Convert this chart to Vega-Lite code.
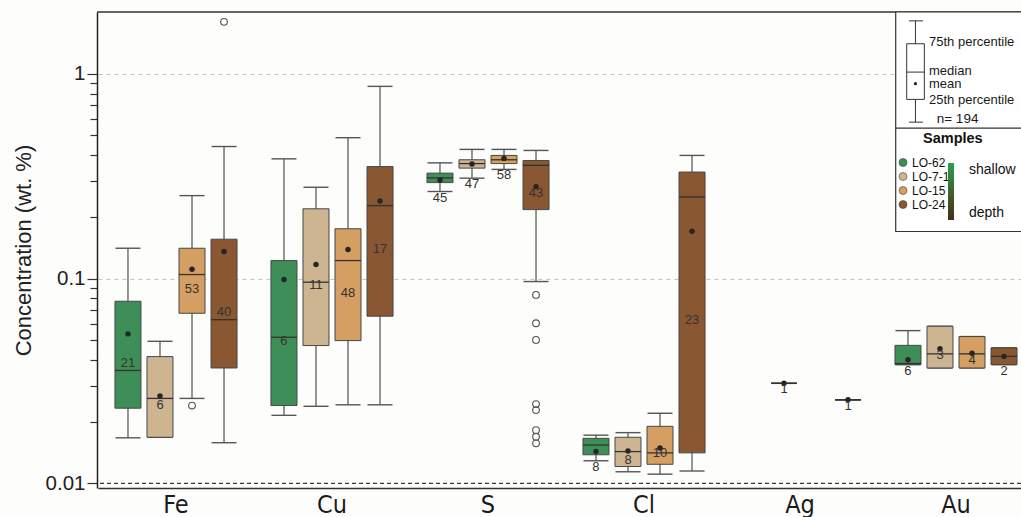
{
  "$schema": "https://vega.github.io/schema/vega-lite/v6.json",
  "width": 924,
  "height": 476,
  "autosize": "none",
  "padding": {"left": 97, "top": 12, "right": 0, "bottom": 29},
  "background": "#fdfdfb",
  "config": {"view": {"stroke": null}, "font": "Liberation Sans"},
  "datasets": {
    "boxes": [
      {"element": "Fe", "sample": "LO-62", "depth": 1, "n": 21, "lower": 0.0167, "q1": 0.0233, "median": 0.0356, "q3": 0.0775, "upper": 0.1406, "mean": 0.0537},
      {"element": "Fe", "sample": "LO-7-1", "depth": 2, "n": 6, "lower": 0.0168, "q1": 0.0168, "median": 0.026, "q3": 0.0416, "upper": 0.0494, "mean": 0.0267},
      {"element": "Fe", "sample": "LO-15", "depth": 3, "n": 53, "lower": 0.026, "q1": 0.0677, "median": 0.1046, "q3": 0.1406, "upper": 0.254, "mean": 0.111},
      {"element": "Fe", "sample": "LO-24", "depth": 4, "n": 40, "lower": 0.0158, "q1": 0.0366, "median": 0.063, "q3": 0.1556, "upper": 0.441, "mean": 0.1355},
      {"element": "Cu", "sample": "LO-62", "depth": 1, "n": 6, "lower": 0.0215, "q1": 0.024, "median": 0.0517, "q3": 0.1224, "upper": 0.384, "mean": 0.099},
      {"element": "Cu", "sample": "LO-7-1", "depth": 2, "n": 11, "lower": 0.0238, "q1": 0.0471, "median": 0.096, "q3": 0.219, "upper": 0.279, "mean": 0.117},
      {"element": "Cu", "sample": "LO-15", "depth": 3, "n": 48, "lower": 0.0242, "q1": 0.0498, "median": 0.1224, "q3": 0.175, "upper": 0.487, "mean": 0.1386},
      {"element": "Cu", "sample": "LO-24", "depth": 4, "n": 17, "lower": 0.0242, "q1": 0.0655, "median": 0.227, "q3": 0.352, "upper": 0.867, "mean": 0.239},
      {"element": "S", "sample": "LO-62", "depth": 1, "n": 45, "lower": 0.266, "q1": 0.294, "median": 0.31, "q3": 0.327, "upper": 0.367, "mean": 0.303},
      {"element": "S", "sample": "LO-7-1", "depth": 2, "n": 47, "lower": 0.309, "q1": 0.346, "median": 0.364, "q3": 0.38, "upper": 0.427, "mean": 0.362},
      {"element": "S", "sample": "LO-15", "depth": 3, "n": 58, "lower": 0.341, "q1": 0.364, "median": 0.38, "q3": 0.399, "upper": 0.427, "mean": 0.386},
      {"element": "S", "sample": "LO-24", "depth": 4, "n": 43, "lower": 0.0967, "q1": 0.217, "median": 0.357, "q3": 0.377, "upper": 0.422, "mean": 0.281},
      {"element": "Cl", "sample": "LO-62", "depth": 1, "n": 8, "lower": 0.0129, "q1": 0.0138, "median": 0.0154, "q3": 0.0166, "upper": 0.0172, "mean": 0.0143},
      {"element": "Cl", "sample": "LO-7-1", "depth": 2, "n": 8, "lower": 0.0114, "q1": 0.0121, "median": 0.0143, "q3": 0.0168, "upper": 0.0177, "mean": 0.0144},
      {"element": "Cl", "sample": "LO-15", "depth": 3, "n": 10, "lower": 0.0111, "q1": 0.0124, "median": 0.0141, "q3": 0.019, "upper": 0.022, "mean": 0.0149},
      {"element": "Cl", "sample": "LO-24", "depth": 4, "n": 23, "lower": 0.0115, "q1": 0.0141, "median": 0.25, "q3": 0.331, "upper": 0.399, "mean": 0.17},
      {"element": "Ag", "sample": "LO-7-1", "depth": 2, "n": 1, "lower": 0.0308, "q1": 0.0308, "median": 0.0308, "q3": 0.0308, "upper": 0.0308, "mean": 0.0308},
      {"element": "Ag", "sample": "LO-24", "depth": 4, "n": 1, "lower": 0.0256, "q1": 0.0256, "median": 0.0256, "q3": 0.0256, "upper": 0.0256, "mean": 0.0256},
      {"element": "Au", "sample": "LO-62", "depth": 1, "n": 6, "lower": 0.038, "q1": 0.038, "median": 0.0385, "q3": 0.0472, "upper": 0.0557, "mean": 0.0401},
      {"element": "Au", "sample": "LO-7-1", "depth": 2, "n": 3, "lower": 0.0366, "q1": 0.0366, "median": 0.0429, "q3": 0.0585, "upper": 0.0585, "mean": 0.0454},
      {"element": "Au", "sample": "LO-15", "depth": 3, "n": 4, "lower": 0.0366, "q1": 0.0366, "median": 0.0429, "q3": 0.0521, "upper": 0.0521, "mean": 0.0432},
      {"element": "Au", "sample": "LO-24", "depth": 4, "n": 2, "lower": 0.038, "q1": 0.038, "median": 0.0417, "q3": 0.0459, "upper": 0.0459, "mean": 0.0417}
    ],
    "outliers": [
      {"element": "Fe", "sample": "LO-15", "value": 0.024},
      {"element": "Fe", "sample": "LO-24", "value": 1.79},
      {"element": "S", "sample": "LO-24", "value": 0.0832},
      {"element": "S", "sample": "LO-24", "value": 0.0605},
      {"element": "S", "sample": "LO-24", "value": 0.0502},
      {"element": "S", "sample": "LO-24", "value": 0.0244},
      {"element": "S", "sample": "LO-24", "value": 0.0228},
      {"element": "S", "sample": "LO-24", "value": 0.0182},
      {"element": "S", "sample": "LO-24", "value": 0.0169},
      {"element": "S", "sample": "LO-24", "value": 0.0157}
    ],
    "key": [
      {"lower": 0.58, "q1": 0.749, "median": 1.018, "mean": 0.894, "q3": 1.4, "upper": 1.81, "n": 194}
    ]
  },
  "layer": [
    {
      "data": {"name": "boxes"},
      "mark": {"type": "rule", "color": "#686868", "strokeWidth": 1.4},
      "encoding": {
        "x": {
          "field": "element", "type": "nominal", "sort": ["Fe", "Cu", "S", "Cl", "Ag", "Au"],
          "scale": {"domain": ["Fe", "Cu", "S", "Cl", "Ag", "Au"], "range": [1, 937], "paddingInner": 0, "paddingOuter": 0},
          "axis": {"title": null, "labelFontSize": 25, "labelFont": "Liberation Sans Narrow, DejaVu Sans Condensed, sans-serif", "labelColor": "#1a1a1a", "labelAngle": 0, "ticks": false, "labelPadding": 4, "domain": true, "domainColor": "#333333", "domainWidth": 1.5, "grid": false}
        },
        "xOffset": {"field": "sample", "type": "nominal", "scale": {"domain": ["LO-62", "LO-7-1", "LO-15", "LO-24"], "paddingInner": 0.1875, "paddingOuter": 0.53}},
        "y": {
          "field": "lower", "type": "quantitative",
          "scale": {"type": "log", "domain": [0.0095, 2], "nice": false},
          "axis": {
            "title": "Concentration (wt. %)", "titleFontSize": 22, "titleFontWeight": "normal", "titleColor": "#222222", "titlePadding": 10,
            "values": [0.01, 0.02, 0.03, 0.04, 0.05, 0.06, 0.07, 0.08, 0.09, 0.1, 0.2, 0.3, 0.4, 0.5, 0.6, 0.7, 0.8, 0.9, 1],
            "labelExpr": "datum.value == 1 ? '1' : (datum.value == 0.1 ? '0.1' : (datum.value == 0.01 ? '0.01' : ''))",
            "labelFontSize": 20.5, "labelColor": "#222222", "labelPadding": 2, "labelOverlap": false, "labelFlush": false,
            "tickSize": {"condition": {"test": "datum.value == 1 || datum.value == 0.1 || datum.value == 0.01", "value": 10}, "value": 7},
            "tickColor": "#333333", "tickWidth": 1.2,
            "domainColor": "#222222", "domainWidth": 1.5,
            "grid": true, "gridColor": "#c4c4c4", "gridDash": [4, 4], "gridWidth": 1,
            "gridOpacity": {"condition": {"test": "datum.value == 1 || datum.value == 0.1", "value": 1}, "value": 0}
          }
        },
        "y2": {"field": "upper"}
      }
    },
    {
      "data": {"name": "key"},
      "mark": {"type": "rule", "color": "#3a3a3a", "strokeDash": [4, 3], "strokeWidth": 1.2},
      "encoding": {"y": {"datum": 0.01, "type": "quantitative"}}
    },
    {
      "data": {"name": "key"},
      "mark": {"type": "rule", "color": "#333333", "strokeWidth": 1.5},
      "encoding": {"y": {"datum": 2, "type": "quantitative"}}
    },
    {
      "data": {"name": "boxes"},
      "mark": {"type": "tick", "color": "#555555", "thickness": 1.4, "size": 25, "opacity": 1},
      "encoding": {
        "x": {"field": "element", "type": "nominal"},
        "xOffset": {"field": "sample", "type": "nominal"},
        "y": {"field": "lower", "type": "quantitative"}
      }
    },
    {
      "data": {"name": "boxes"},
      "mark": {"type": "tick", "color": "#555555", "thickness": 1.4, "size": 25, "opacity": 1},
      "encoding": {
        "x": {"field": "element", "type": "nominal"},
        "xOffset": {"field": "sample", "type": "nominal"},
        "y": {"field": "upper", "type": "quantitative"}
      }
    },
    {
      "data": {"name": "boxes"},
      "mark": {"type": "bar", "stroke": "#474747", "strokeWidth": 1},
      "encoding": {
        "x": {"field": "element", "type": "nominal"},
        "xOffset": {"field": "sample", "type": "nominal"},
        "y": {"field": "q1", "type": "quantitative"},
        "y2": {"field": "q3"},
        "color": {
          "field": "sample", "type": "nominal",
          "scale": {"domain": ["LO-62", "LO-7-1", "LO-15", "LO-24"], "range": ["#3d8f57", "#cdb592", "#d59e62", "#8a5733"]},
          "legend": {
            "orient": "none", "legendX": 800, "legendY": 120, "padding": 0,
            "title": "Samples", "titleFontSize": 14.5, "titleFontWeight": "bold", "titleColor": "#111111", "titleAnchor": "middle", "titleAlign": "left", "titlePadding": 10,
            "symbolType": "circle", "symbolSize": 64, "symbolStrokeColor": "#444444", "symbolStrokeWidth": 0.6, "symbolOpacity": 1,
            "labelFontSize": 12, "labelColor": "#111111", "labelOffset": 3, "rowPadding": 2
          }
        }
      }
    },
    {
      "data": {"name": "boxes"},
      "mark": {"type": "tick", "color": "#333333", "thickness": 1.3, "size": 26, "opacity": 1},
      "encoding": {
        "x": {"field": "element", "type": "nominal"},
        "xOffset": {"field": "sample", "type": "nominal"},
        "y": {"field": "median", "type": "quantitative"}
      }
    },
    {
      "data": {"name": "boxes"},
      "mark": {"type": "point", "filled": true, "color": "#262626", "size": 30, "opacity": 1},
      "encoding": {
        "x": {"field": "element", "type": "nominal"},
        "xOffset": {"field": "sample", "type": "nominal"},
        "y": {"field": "mean", "type": "quantitative"}
      }
    },
    {
      "data": {"name": "outliers"},
      "mark": {"type": "point", "filled": false, "color": "#555555", "strokeWidth": 1.1, "size": 45, "opacity": 1},
      "encoding": {
        "x": {"field": "element", "type": "nominal"},
        "xOffset": {"field": "sample", "type": "nominal"},
        "y": {"field": "value", "type": "quantitative"}
      }
    },
    {
      "data": {"name": "boxes"},
      "transform": [
        {"filter": "datum.q3 / datum.q1 > 1.3"},
        {"calculate": "sqrt(datum.q1 * datum.q3)", "as": "mid"}
      ],
      "mark": {"type": "text", "fontSize": 13, "color": "#333333", "baseline": "middle", "align": "center", "dy": 8},
      "encoding": {
        "x": {"field": "element", "type": "nominal"},
        "xOffset": {"field": "sample", "type": "nominal"},
        "y": {"field": "mid", "type": "quantitative"},
        "text": {"field": "n", "type": "quantitative"}
      }
    },
    {
      "data": {"name": "boxes"},
      "transform": [{"filter": "datum.q3 / datum.q1 <= 1.3"}],
      "mark": {"type": "text", "fontSize": 13, "color": "#333333", "baseline": "top", "align": "center", "dy": 0},
      "encoding": {
        "x": {"field": "element", "type": "nominal"},
        "xOffset": {"field": "sample", "type": "nominal"},
        "y": {"field": "lower", "type": "quantitative"},
        "text": {"field": "n", "type": "quantitative"}
      }
    },
    {
      "data": {"name": "boxes"},
      "mark": {"type": "point", "filled": true, "size": 0, "strokeWidth": 0, "opacity": 1},
      "encoding": {
        "x": {"field": "element", "type": "nominal"},
        "xOffset": {"field": "sample", "type": "nominal"},
        "y": {"field": "median", "type": "quantitative"},
        "fill": {
          "field": "depth", "type": "quantitative",
          "scale": {"domain": [4, 1], "range": ["#4a2c14", "#2f9e4e"], "interpolate": "rgb"},
          "legend": {
            "orient": "none", "legendX": 851, "legendY": 151, "padding": 0, "title": null,
            "direction": "vertical", "gradientLength": 57, "gradientThickness": 6, "gradientStrokeWidth": 0, "gradientOpacity": 1,
            "values": [1, 4], "labelExpr": "datum.value == 1 ? 'shallow' : 'depth'",
            "labelFontSize": 14, "labelColor": "#111111", "labelOffset": 15
          }
        }
      }
    },
    {
      "data": {"name": "key"},
      "mark": {"type": "rect", "fill": "#ffffff", "stroke": "#333333", "strokeWidth": 1.2},
      "encoding": {
        "x": {"datum": "Au", "type": "nominal", "bandPosition": 0.1135},
        "x2": {"datum": "Au", "bandPosition": 1.3},
        "y": {"datum": 2, "type": "quantitative"},
        "y2": {"datum": 0.1697}
      }
    },
    {
      "data": {"name": "key"},
      "mark": {"type": "rule", "color": "#333333", "strokeWidth": 1.2},
      "encoding": {
        "x": {"datum": "Au", "type": "nominal", "bandPosition": 0.1135},
        "x2": {"datum": "Au", "bandPosition": 1.3},
        "y": {"datum": 0.542, "type": "quantitative"}
      }
    },
    {
      "data": {"name": "key"},
      "mark": {"type": "rule", "color": "#333333", "strokeWidth": 1},
      "encoding": {
        "x": {"datum": "Au", "type": "nominal", "bandPosition": 0.24},
        "y": {"field": "lower", "type": "quantitative"},
        "y2": {"field": "upper"}
      }
    },
    {
      "data": {"name": "key"},
      "mark": {"type": "rule", "color": "#333333", "strokeWidth": 1},
      "encoding": {
        "x": {"datum": "Au", "type": "nominal", "bandPosition": 0.199},
        "x2": {"datum": "Au", "bandPosition": 0.288},
        "y": {"field": "upper", "type": "quantitative"}
      }
    },
    {
      "data": {"name": "key"},
      "mark": {"type": "rule", "color": "#333333", "strokeWidth": 1},
      "encoding": {
        "x": {"datum": "Au", "type": "nominal", "bandPosition": 0.199},
        "x2": {"datum": "Au", "bandPosition": 0.288},
        "y": {"field": "lower", "type": "quantitative"}
      }
    },
    {
      "data": {"name": "key"},
      "mark": {"type": "rect", "fill": "#ffffff", "stroke": "#333333", "strokeWidth": 1},
      "encoding": {
        "x": {"datum": "Au", "type": "nominal", "bandPosition": 0.184},
        "x2": {"datum": "Au", "bandPosition": 0.297},
        "y": {"field": "q1", "type": "quantitative"},
        "y2": {"field": "q3"}
      }
    },
    {
      "data": {"name": "key"},
      "mark": {"type": "rule", "color": "#333333", "strokeWidth": 1},
      "encoding": {
        "x": {"datum": "Au", "type": "nominal", "bandPosition": 0.184},
        "x2": {"datum": "Au", "bandPosition": 0.297},
        "y": {"field": "median", "type": "quantitative"}
      }
    },
    {
      "data": {"name": "key"},
      "mark": {"type": "point", "filled": true, "color": "#222222", "size": 10, "opacity": 1},
      "encoding": {
        "x": {"datum": "Au", "type": "nominal", "bandPosition": 0.24},
        "y": {"field": "mean", "type": "quantitative"}
      }
    },
    {
      "data": {"name": "key"},
      "transform": [
        {"fold": ["q3", "median"], "as": ["stat", "val"]},
        {"calculate": "datum.stat == 'q3' ? '75th percentile' : 'median'", "as": "label"}
      ],
      "mark": {"type": "text", "fontSize": 13, "color": "#1a1a1a", "align": "left", "baseline": "middle", "dy": -1.5},
      "encoding": {
        "x": {"datum": "Au", "type": "nominal", "bandPosition": 0.327},
        "y": {"field": "val", "type": "quantitative"},
        "text": {"field": "label", "type": "nominal"}
      }
    },
    {
      "data": {"name": "key"},
      "transform": [
        {"fold": ["mean", "q1"], "as": ["stat", "val"]},
        {"calculate": "datum.stat == 'mean' ? 'mean' : '25th percentile'", "as": "label"}
      ],
      "mark": {"type": "text", "fontSize": 13, "color": "#1a1a1a", "align": "left", "baseline": "middle", "dy": 0.8},
      "encoding": {
        "x": {"datum": "Au", "type": "nominal", "bandPosition": 0.327},
        "y": {"field": "val", "type": "quantitative"},
        "text": {"field": "label", "type": "nominal"}
      }
    },
    {
      "data": {"name": "key"},
      "transform": [{"calculate": "'n= ' + datum.n", "as": "nlabel"}],
      "mark": {"type": "text", "fontSize": 13.5, "color": "#1a1a1a", "align": "center", "baseline": "middle", "dy": -3},
      "encoding": {
        "x": {"datum": "Au", "type": "nominal", "bandPosition": 0.51},
        "y": {"field": "lower", "type": "quantitative"},
        "text": {"field": "nlabel", "type": "nominal"}
      }
    }
  ]
}
